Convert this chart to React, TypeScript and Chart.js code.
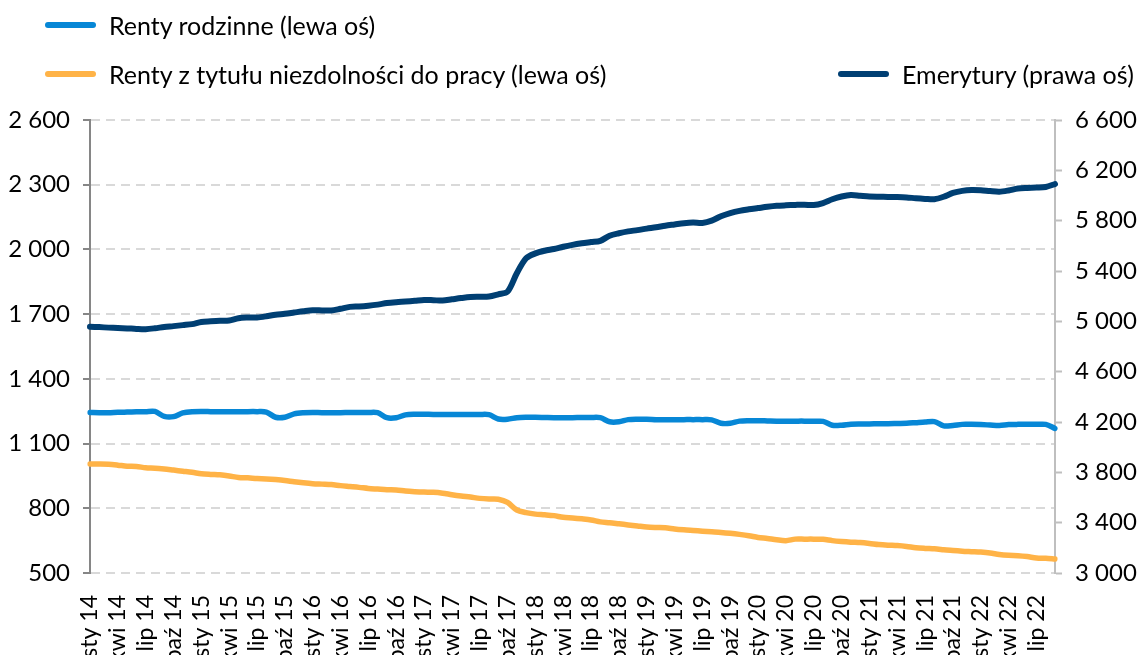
import React, { useEffect, useRef } from "react";
import { Chart, registerables } from "chart.js";

Chart.register(...registerables);

const MONTH_NAMES = ["sty", "lut", "mar", "kwi", "maj", "cze", "lip", "sie", "wrz", "paź", "lis", "gru"];
const YEARS = ["14", "15", "16", "17", "18", "19", "20", "21", "22"];
const LAST_YEAR_MONTHS = 9; // data ends in wrz 22

const categories: string[] = [];
YEARS.forEach((y, yi) => {
  const count = yi === YEARS.length - 1 ? LAST_YEAR_MONTHS : 12;
  for (let m = 0; m < count; m++) categories.push(MONTH_NAMES[m] + " " + y);
});

// Renty rodzinne (left axis)
const rentyRodzinne = [
  1244, 1243, 1243, 1245, 1246, 1247, 1248, 1249, 1226, 1225, 1242, 1248,
  1249, 1248, 1247, 1247, 1247, 1248, 1248, 1246, 1222, 1222, 1238, 1243,
  1244, 1243, 1243, 1243, 1244, 1244, 1244, 1243, 1220, 1220, 1233, 1236,
  1236, 1235, 1235, 1235, 1235, 1235, 1235, 1234, 1214, 1213, 1220, 1222,
  1222, 1221, 1220, 1220, 1220, 1221, 1221, 1220, 1201, 1201, 1211, 1213,
  1213, 1211, 1210, 1210, 1211, 1211, 1211, 1210, 1194, 1194, 1204, 1206,
  1206, 1205, 1204, 1204, 1204, 1204, 1203, 1203, 1185, 1185, 1190, 1191,
  1191, 1192, 1192, 1193, 1194, 1197, 1200, 1202, 1182, 1184, 1189, 1189,
  1188, 1186, 1184, 1188, 1189, 1189, 1189, 1189, 1170,
];

// Renty z tytułu niezdolności do pracy (left axis)
const rentyNiezdolnosc = [
  1005, 1005, 1004, 1000, 995, 994, 988, 986, 982, 977, 972, 967,
  960, 957, 955, 950, 943, 941, 938, 936, 933, 929, 923, 918,
  914, 912, 910, 905, 901, 897, 892, 889, 886, 885, 880, 877,
  875, 874, 870, 863, 857, 852, 846, 843, 842, 827, 792, 780,
  773, 770, 766, 758, 755, 751, 746, 737, 733, 728, 723, 718,
  713, 711, 710, 704, 700, 697, 694, 691, 688, 684, 679, 673,
  665, 660, 654, 650, 657, 657, 657, 656, 650, 646, 643, 641,
  637, 632, 629, 627, 623, 617, 614, 612, 608, 604, 601, 599,
  597, 593, 586, 582, 580, 576, 570, 568, 565,
];

// Emerytury (right axis)
const emerytury = [
  4957, 4954, 4950, 4947, 4944, 4940, 4938, 4945, 4955, 4962, 4970, 4978,
  4995, 5000, 5004, 5006, 5025, 5030, 5031, 5040, 5052, 5060, 5070, 5080,
  5088, 5087, 5086, 5100, 5115, 5118, 5124, 5133, 5145, 5152, 5157, 5163,
  5170, 5168, 5165, 5175, 5185, 5193, 5195, 5197, 5215, 5236, 5382, 5501,
  5540, 5561, 5575, 5593, 5608, 5620, 5630, 5640, 5680, 5700, 5715, 5725,
  5737, 5747, 5760, 5770, 5780, 5785, 5782, 5800, 5835, 5860, 5878, 5890,
  5900, 5910, 5918, 5922, 5925, 5927, 5924, 5940, 5970, 5992, 6004, 5998,
  5992, 5990, 5989, 5988, 5985, 5978, 5973, 5970, 5990, 6020, 6037, 6044,
  6042, 6035, 6030, 6040, 6055, 6060, 6063, 6068, 6091,
];

const LEFT_MIN = 500, LEFT_MAX = 2600, LEFT_STEP = 300;
const RIGHT_MIN = 3000, RIGHT_MAX = 6600, RIGHT_STEP = 400;
const LABEL_EVERY = 3;

const SERIES_NAMES = [
  "Renty rodzinne (lewa oś)",
  "Renty z tytułu niezdolności do pracy (lewa oś)",
  "Emerytury (prawa oś)",
];
const COLORS = ["#0787d6", "#ffb347", "#003f73"];

const FONT = "Lato, 'Open Sans', sans-serif";
const W = 1138;
const H = 720;

const fmt = (v: number) => String(v).replace(/\B(?=(\d{3})+(?!\d))/g, " ");

function LegendItem({ x, y, color, text }: { x: number; y: number; color: string; text: string }) {
  return (
    <div style={{ position: "absolute", left: x, top: y - 16, height: 32, display: "flex", alignItems: "center", whiteSpace: "nowrap" }}>
      <div style={{ width: 51, height: 6, borderRadius: 3, background: color, marginRight: 13 }} />
      <span style={{ fontFamily: FONT, fontSize: 25, color: "#000" }}>{text}</span>
    </div>
  );
}

export default function App() {
  const ref = useRef<HTMLCanvasElement | null>(null);

  useEffect(() => {
    if (!ref.current) return;
    const common = { borderWidth: 5.5, pointRadius: 0, tension: 0.3, borderCapStyle: "round", borderJoinStyle: "round" };
    const chart = new Chart(ref.current, {
      type: "line",
      data: {
        labels: categories,
        datasets: [
          { label: SERIES_NAMES[0], data: rentyRodzinne, borderColor: COLORS[0], backgroundColor: COLORS[0], yAxisID: "y", ...common },
          { label: SERIES_NAMES[1], data: rentyNiezdolnosc, borderColor: COLORS[1], backgroundColor: COLORS[1], yAxisID: "y", ...common },
          { label: SERIES_NAMES[2], data: emerytury, borderColor: COLORS[2], backgroundColor: COLORS[2], yAxisID: "y1", ...common, borderWidth: 6 },
        ] as any,
      },
      options: {
        responsive: false,
        animation: false,
        layout: { padding: { top: 120, left: 0, right: 0, bottom: 0 } },
        plugins: { legend: { display: false }, tooltip: { enabled: false } },
        scales: {
          x: {
            offset: false,
            grid: { display: false, drawTicks: false },
            border: { display: false },
            ticks: {
              autoSkip: false,
              minRotation: 90,
              maxRotation: 90,
              padding: 22,
              color: "#000",
              font: { family: FONT, size: 23 },
              callback: (_v: any, i: number) => (i % LABEL_EVERY === 0 ? categories[i] : ""),
            },
            afterFit: (s: any) => { s.height = H - 573; },
          },
          y: {
            position: "left",
            min: LEFT_MIN,
            max: LEFT_MAX,
            grid: { color: "#d9d9d9", lineWidth: 2, tickLength: 7, tickColor: "#868686", tickWidth: 2 },
            border: { display: true, color: "#868686", width: 2, dash: [9, 6] },
            ticks: { stepSize: LEFT_STEP, padding: 13, color: "#000", font: { family: FONT, size: 24 }, callback: (v: any) => fmt(Number(v)) },
            afterFit: (s: any) => { s.width = 90; },
          },
          y1: {
            position: "right",
            min: RIGHT_MIN,
            max: RIGHT_MAX,
            grid: { drawOnChartArea: false, tickLength: 7, tickColor: "#bfbfbf", tickWidth: 2 },
            border: { display: true, color: "#bfbfbf", width: 2 },
            ticks: { stepSize: RIGHT_STEP, padding: 13, color: "#000", font: { family: FONT, size: 24 }, callback: (v: any) => fmt(Number(v)) },
            afterFit: (s: any) => { s.width = W - 1055; },
          },
        },
      },
    });
    return () => chart.destroy();
  }, []);

  return (
    <div style={{ position: "fixed", left: 0, top: 0, width: W, height: 655, overflow: "hidden", background: "#fff" }}>
      <canvas ref={ref} width={W} height={H} style={{ position: "absolute", left: 0, top: 0, width: W, height: H }} />
      <LegendItem x={45} y={25} color={COLORS[0]} text={SERIES_NAMES[0]} />
      <LegendItem x={45} y={74} color={COLORS[1]} text={SERIES_NAMES[1]} />
      <LegendItem x={838} y={74} color={COLORS[2]} text={SERIES_NAMES[2]} />
    </div>
  );
}
